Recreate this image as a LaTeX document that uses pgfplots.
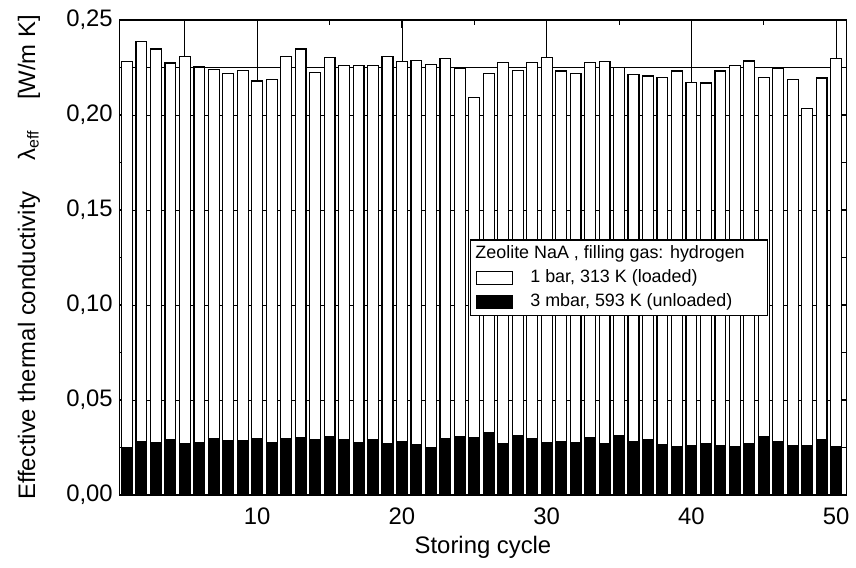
\documentclass[border=0pt]{standalone}
\usepackage{pgfplots}
\pgfplotsset{compat=1.18}
\usepackage{pgfplotstable}
\usepackage{fontspec}
\setmainfont{Liberation Sans}
\pgfplotstableread{
x loaded unloaded
1 0.2280 0.0247
2 0.2385 0.0282
3 0.2347 0.0276
4 0.2273 0.0292
5 0.2306 0.0273
6 0.2252 0.0278
7 0.2238 0.0298
8 0.2219 0.0284
9 0.2233 0.0287
10 0.2179 0.0298
11 0.2187 0.0275
12 0.2306 0.0298
13 0.2347 0.0301
14 0.2224 0.0294
15 0.2303 0.0308
16 0.2259 0.0291
17 0.2260 0.0278
18 0.2260 0.0294
19 0.2306 0.0268
20 0.2282 0.0282
21 0.2286 0.0263
22 0.2265 0.0247
23 0.2296 0.0298
24 0.2245 0.0306
25 0.2090 0.0304
26 0.2217 0.0329
27 0.2275 0.0271
28 0.2236 0.0311
29 0.2277 0.0296
30 0.2303 0.0276
31 0.2231 0.0280
32 0.2219 0.0276
33 0.2277 0.0303
34 0.2282 0.0268
35 0.2248 0.0315
36 0.2215 0.0282
37 0.2205 0.0294
38 0.2198 0.0266
39 0.2231 0.0254
40 0.2172 0.0259
41 0.2168 0.0270
42 0.2231 0.0259
43 0.2260 0.0257
44 0.2284 0.0273
45 0.2198 0.0306
46 0.2243 0.0280
47 0.2187 0.0259
48 0.2032 0.0259
49 0.2195 0.0294
50 0.2296 0.0256
}\datatable
\begin{document}
\begin{tikzpicture}
\begin{axis}[
  scale only axis,
  width=364bp, height=238bp,
  xmin=0.5, xmax=50.7,
  ymin=0, ymax=0.25,
  xtick={10,20,30,40,50},
  minor xtick={5,15,25,35,45},
  ytick={0,0.05,0.10,0.15,0.20,0.25},
  minor ytick={0.025,0.075,0.125,0.175,0.225},
  tick align=inside,
  major tick length=4bp,
  minor tick length=2.5bp,
  axis line style={line width=0.7pt},
  every tick/.style={black, line width=0.5pt},
  xmajorgrids, ymajorgrids,
  major grid style={black, line width=0.45pt},
  extra y ticks={0.225},
  extra y tick labels={},
  extra y tick style={grid=major, major grid style={black, line width=0.45pt}},
  extra x ticks={5},
  extra x tick labels={},
  extra x tick style={grid=major, major grid style={black, line width=0.45pt}},
  ticklabel style={font=\fontsize{12}{14}\selectfont},
  label style={font=\fontsize{12}{14}\selectfont},
  yticklabel style={/pgf/number format/.cd, use comma, fixed, fixed zerofill, precision=2, assume math mode=true},
  xticklabel style={/pgf/number format/assume math mode=true, yshift=-3bp},
  xlabel={Storing cycle},
  xlabel style={at={(axis description cs:0.5,-0.11)}, anchor=center},
  ylabel={Effective thermal conductivity\quad\ λ\textsubscript{eff}\quad\ [W/m K]},
  ylabel style={at={(axis description cs:-0.125,0.5)}, anchor=center, rotate=0},
  legend style={at={(axis description cs:0.482,0.538)}, anchor=north west,
    draw=black, line width=0.6pt, fill=white,
    font=\fontsize{9}{10}\selectfont, inner xsep=2.5bp, inner ysep=1bp,
    row sep=0bp},
  legend cell align=left,
]
\addlegendimage{empty legend}
\addlegendentry{\hspace*{-21bp}Zeolite NaA , filling gas: hydrogen\hspace*{7bp}}
\addplot[ybar, bar width=0.75, bar shift=0pt, fill=white, draw=black, line width=0.6pt,
  legend image code/.code={\draw[fill=white, draw=black, line width=0.5pt] (0bp,-3.3bp) rectangle (18.5bp,3.3bp);}]
  table[x=x, y=loaded] {\datatable};
\addlegendentry{\hspace*{6.5bp}1 bar, 313 K (loaded)}
\addplot[ybar, bar width=0.75, bar shift=0pt, fill=black, draw=black, line width=0.6pt,
  legend image code/.code={\draw[fill=black, draw=black, line width=0.5pt] (0bp,-3.3bp) rectangle (18.5bp,3.3bp);}]
  table[x=x, y=unloaded] {\datatable};
\addlegendentry{\hspace*{6.5bp}3 mbar, 593 K (unloaded)}
\end{axis}
\path (current axis.south west) ++(-60bp,-36.5bp) coordinate (bbsw);
\path (current axis.north east) ++(4bp,10bp) coordinate (bbne);
\path (bbsw) rectangle (bbne);
\end{tikzpicture}
\end{document}
